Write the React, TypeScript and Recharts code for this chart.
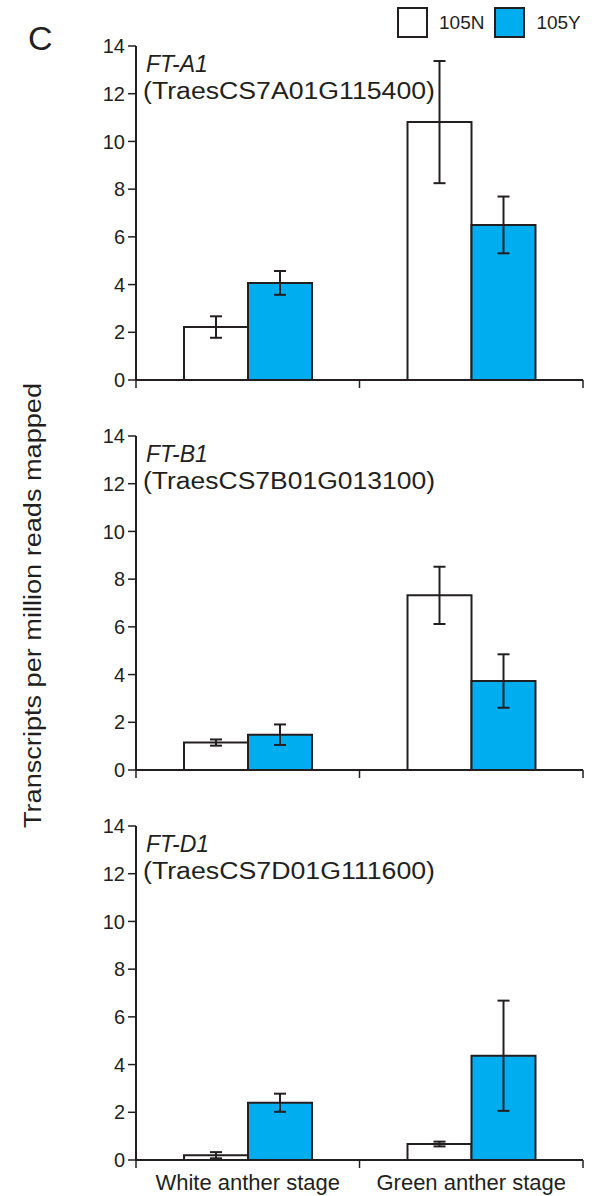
import { BarChart, Bar, XAxis, YAxis, ErrorBar, Legend } from "recharts";

const stages = ["White anther stage", "Green anther stage"];
const yTicks = [0, 2, 4, 6, 8, 10, 12, 14];
const seriesNames = ["105N", "105Y"];

const geneNames = ["FT-A1", "FT-B1", "FT-D1"];
const geneIds = ["(TraesCS7A01G115400)", "(TraesCS7B01G013100)", "(TraesCS7D01G111600)"];

// FT-A1
const ftA1N = [2.22, 10.81];
const ftA1NErr = [0.45, 2.56];
const ftA1Y = [4.07, 6.5];
const ftA1YErr = [0.5, 1.19];

// FT-B1
const ftB1N = [1.15, 7.32];
const ftB1NErr = [0.13, 1.2];
const ftB1Y = [1.48, 3.73];
const ftB1YErr = [0.43, 1.12];

// FT-D1
const ftD1N = [0.2, 0.67];
const ftD1NErr = [0.13, 0.1];
const ftD1Y = [2.4, 4.37];
const ftD1YErr = [0.38, 2.31];

const INK = "#231f20";
const BLUE = "#00aeef";
const FONT = "'Liberation Sans', Arial, Helvetica, sans-serif";

function rows(n: number[], nErr: number[], y: number[], yErr: number[]) {
  return stages.map((stage, i) => ({
    stage,
    n: n[i],
    nErr: nErr[i],
    y: y[i],
    yErr: yErr[i],
  }));
}

const panels = [
  { name: geneNames[0], id: geneIds[0], data: rows(ftA1N, ftA1NErr, ftA1Y, ftA1YErr) },
  { name: geneNames[1], id: geneIds[1], data: rows(ftB1N, ftB1NErr, ftB1Y, ftB1YErr) },
  { name: geneNames[2], id: geneIds[2], data: rows(ftD1N, ftD1NErr, ftD1Y, ftD1YErr) },
];

// category tick: draws the band edge marks and (optionally) the stage label
function StageTick(props: any) {
  const { x, y, payload, index, showLabel } = props;
  const half = payload.offset ?? 0;
  return (
    <g>
      <line x1={x - half} x2={x - half} y1={y} y2={y + 8} stroke={INK} strokeWidth={1.5} />
      {index === stages.length - 1 && (
        <line x1={x + half} x2={x + half} y1={y} y2={y + 8} stroke={INK} strokeWidth={1.5} />
      )}
      {showLabel && (
        <text x={x} y={y + 30} textAnchor="middle" fontSize={22} fill={INK} fontFamily={FONT}>
          {payload.value}
        </text>
      )}
    </g>
  );
}

function LegendContent({ payload }: any) {
  return (
    <div style={{ display: "flex", alignItems: "center", fontFamily: FONT, fontSize: 19, color: INK }}>
      {(payload || []).map((p: any) => (
        <div key={p.value} style={{ display: "flex", alignItems: "center", marginRight: 10 }}>
          <span
            style={{
              display: "inline-block",
              width: 27,
              height: 27,
              background: p.color,
              border: `2px solid ${INK}`,
              marginRight: 11,
            }}
          />
          <span>{p.value}</span>
        </div>
      ))}
    </div>
  );
}

function Panel({ data, name, id, height, showLabel, showLegend }: any) {
  return (
    <div style={{ position: "relative", width: 602, height }}>
      <BarChart
        width={602}
        height={height}
        data={data}
        margin={{ top: 46, right: 19, left: 0, bottom: 0 }}
        barGap={0}
        barSize={64}
      >
        <XAxis
          dataKey="stage"
          height={height - 380}
          interval={0}
          tickSize={0}
          tickMargin={0}
          tickLine={false}
          axisLine={{ stroke: INK, strokeWidth: 2 }}
          tick={<StageTick showLabel={showLabel} />}
        />
        <YAxis
          type="number"
          domain={[0, 14]}
          ticks={yTicks}
          interval={0}
          width={136}
          tickSize={8}
          tickMargin={3}
          axisLine={{ stroke: INK, strokeWidth: 2 }}
          tickLine={{ stroke: INK, strokeWidth: 1.5 }}
          tick={{ fill: INK, fontSize: 20, fontFamily: FONT }}
        />
        {showLegend && (
          <Legend
            layout="horizontal"
            verticalAlign="middle"
            align="center"
            content={<LegendContent />}
            wrapperStyle={{ top: 7, left: 397, width: 205 }}
          />
        )}
        <Bar dataKey="n" name={seriesNames[0]} fill="#ffffff" stroke={INK} strokeWidth={2} isAnimationActive={false}>
          <ErrorBar dataKey="nErr" width={6} stroke={INK} strokeWidth={2} />
        </Bar>
        <Bar dataKey="y" name={seriesNames[1]} fill={BLUE} stroke={INK} strokeWidth={2} isAnimationActive={false}>
          <ErrorBar dataKey="yErr" width={6} stroke={INK} strokeWidth={2} />
        </Bar>
      </BarChart>
      <svg
        width={602}
        height={110}
        style={{ position: "absolute", left: 0, top: 0, pointerEvents: "none" }}
      >
        <text x={146} y={72} fontSize={23} fontStyle="italic" fill={INK} fontFamily={FONT}>
          {name}
        </text>
        <text
          x={143}
          y={98.5}
          fontSize={23}
          fill={INK}
          fontFamily={FONT}
          textLength={292}
          lengthAdjust="spacingAndGlyphs"
        >
          {id}
        </text>
      </svg>
    </div>
  );
}

export default function App() {
  return (
    <div
      style={{
        position: "absolute",
        left: 0,
        top: 0,
        width: 602,
        height: 1196,
        background: "#fff",
        overflow: "hidden",
      }}
    >
      <Panel {...panels[0]} height={390} showLabel={false} showLegend />
      <Panel {...panels[1]} height={390} showLabel={false} />
      <Panel {...panels[2]} height={416} showLabel />
      <svg
        width={602}
        height={1196}
        style={{ position: "absolute", left: 0, top: 0, pointerEvents: "none" }}
      >
        <text x={28} y={50} fontSize={34} fill={INK} fontFamily={FONT}>
          C
        </text>
        <text
          transform="translate(41 605.5) rotate(-90)"
          textAnchor="middle"
          fontSize={23}
          fill={INK}
          fontFamily={FONT}
          textLength={445}
          lengthAdjust="spacingAndGlyphs"
        >
          Transcripts per million reads mapped
        </text>
      </svg>
    </div>
  );
}
